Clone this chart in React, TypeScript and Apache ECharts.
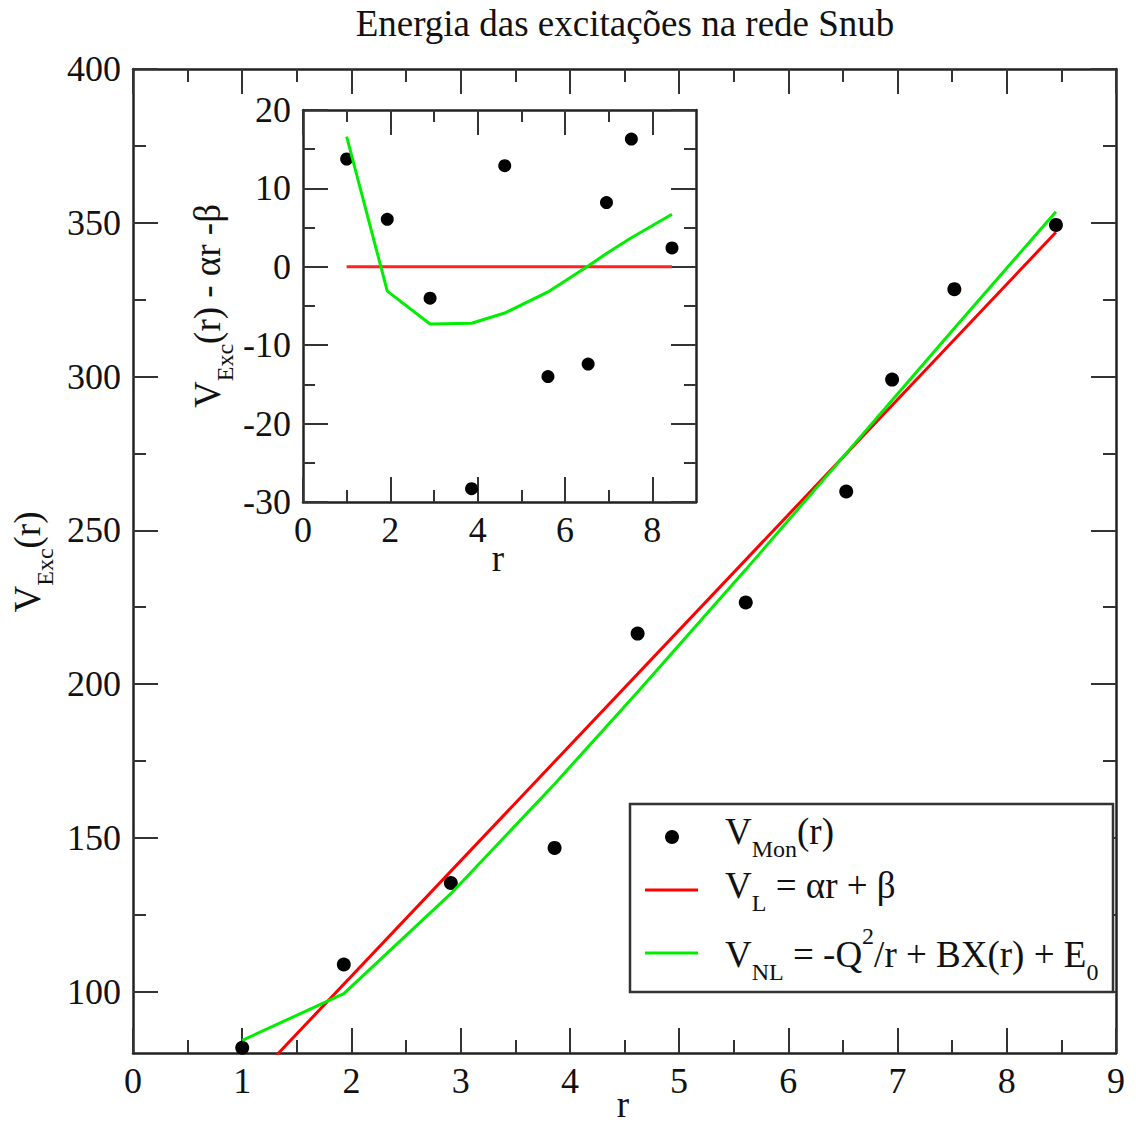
import React, { useEffect, useRef } from "react";
import * as echarts from "echarts";

// ---------- data ----------
const rValues = [1.0, 1.93, 2.91, 3.86, 4.62, 5.61, 6.53, 6.95, 7.52, 8.45];
const vMon = [81.7, 108.8, 135.3, 146.7, 216.4, 226.5, 262.6, 299.0, 328.4, 349.3];
const linearR = [1.0, 8.45];
const vLinear = [67.5, 346.9];
const vNonLinear = [84.1, 99.3, 131.8, 167.5, 197.4, 237.2, 275.0, 292.3, 315.7, 353.6];
const residMon = [13.75, 6.05, -4.0, -28.3, 12.9, -14.0, -12.4, 8.2, 16.3, 2.4];
const residLinear = [0, 0];
const residNonLinear = [16.6, -3.1, -7.3, -7.2, -5.9, -3.2, 0.1, 1.7, 3.7, 6.7];

const mainXTicks = [0, 1, 2, 3, 4, 5, 6, 7, 8, 9];
const mainXMinor = [0.5, 1.5, 2.5, 3.5, 4.5, 5.5, 6.5, 7.5, 8.5];
const mainYTicks = [100, 150, 200, 250, 300, 350, 400];
const mainYMinor = [125, 175, 225, 275, 325, 375];
const insetXTicks = [0, 2, 4, 6, 8];
const insetXMinor = [1, 3, 5, 7];
const insetYTicks = [-30, -20, -10, 0, 10, 20];
const insetYMinor = [-25, -15, -5, 5, 15];

const titleText = "Energia das excitações na rede Snub";

const SERIF = "'Liberation Serif', 'Times New Roman', serif";
const AX = "#222";
const TICK = "#333";
const LABEL_SIZE = 36;

function axis(
  gridIndex: number,
  position: string,
  min: number,
  max: number,
  values: number[],
  tickLen: number,
  labels: boolean,
  line: boolean
) {
  return {
    type: "value",
    gridIndex,
    position,
    min,
    max,
    axisLine: { show: line, onZero: false, lineStyle: { color: AX, width: 2.5 } },
    axisTick: {
      show: true,
      inside: true,
      length: tickLen,
      customValues: values,
      lineStyle: { color: TICK, width: 2 },
    },
    axisLabel: {
      show: labels,
      customValues: values,
      fontFamily: SERIF,
      fontSize: LABEL_SIZE,
      color: "#111",
      margin: position === "left" ? 12 : 10,
    },
    splitLine: { show: false },
    minorTick: { show: false },
    minorSplitLine: { show: false },
  };
}

const rich = {
  n: { fontFamily: SERIF, fontSize: 37, fill: "#111" },
  sub: { fontFamily: SERIF, fontSize: 24, fill: "#111", padding: [36, 0, 0, 0] },
  sup: { fontFamily: SERIF, fontSize: 24, fill: "#111", padding: [0, 0, 36, 0] },
};
const richAx = {
  n: { fontFamily: SERIF, fontSize: 37, fill: "#111" },
  sub: { fontFamily: SERIF, fontSize: 24, fill: "#111", padding: [36, 0, 0, 0] },
};

export default function App() {
  const ref = useRef<HTMLDivElement>(null);
  useEffect(() => {
    if (!ref.current) return;
    const chart = echarts.init(ref.current, undefined, { renderer: "svg" });
    const pair = (xs: number[], ys: number[]) => xs.map((x, i) => [x, ys[i]]);
    const option = {
      animation: false,
      backgroundColor: "#fff",
      grid: [
        { left: 133, top: 69, right: 20, bottom: 71, containLabel: false },
        {
          left: 303,
          top: 110,
          width: 393,
          height: 392,
          show: true,
          backgroundColor: "#fff",
          borderWidth: 0,
          containLabel: false,
        },
      ],
      xAxis: [
        axis(0, "bottom", 0, 9, mainXTicks, 25, true, true),
        axis(0, "bottom", 0, 9, mainXMinor, 13, false, false),
        axis(0, "top", 0, 9, mainXTicks, 25, false, true),
        axis(0, "top", 0, 9, mainXMinor, 13, false, false),
        axis(1, "bottom", 0, 9, insetXTicks, 25, true, true),
        axis(1, "bottom", 0, 9, insetXMinor, 12, false, false),
        axis(1, "top", 0, 9, insetXTicks, 25, false, true),
        axis(1, "top", 0, 9, insetXMinor, 12, false, false),
      ],
      yAxis: [
        axis(0, "left", 80, 400, mainYTicks, 25, true, true),
        axis(0, "left", 80, 400, mainYMinor, 13, false, false),
        axis(0, "right", 80, 400, mainYTicks, 25, false, true),
        axis(0, "right", 80, 400, mainYMinor, 13, false, false),
        axis(1, "left", -30, 20, insetYTicks, 25, true, true),
        axis(1, "left", -30, 20, insetYMinor, 12, false, false),
        axis(1, "right", -30, 20, insetYTicks, 25, false, true),
        axis(1, "right", -30, 20, insetYMinor, 12, false, false),
      ],
      series: [
        {
          type: "scatter",
          xAxisIndex: 0,
          yAxisIndex: 0,
          data: pair(rValues, vMon),
          symbol: "circle",
          symbolSize: 14,
          itemStyle: { color: "#000", opacity: 1 },
          z: 3,
        },
        {
          type: "line",
          xAxisIndex: 0,
          yAxisIndex: 0,
          data: pair(linearR, vLinear),
          showSymbol: false,
          symbol: "none",
          lineStyle: { color: "#ff0000", width: 3 },
          clip: true,
          z: 4,
        },
        {
          type: "line",
          xAxisIndex: 0,
          yAxisIndex: 0,
          data: pair(rValues, vNonLinear),
          showSymbol: false,
          symbol: "none",
          lineStyle: { color: "#00ee00", width: 3 },
          clip: true,
          z: 4,
        },
        {
          type: "scatter",
          xAxisIndex: 4,
          yAxisIndex: 4,
          data: pair(rValues, residMon),
          symbol: "circle",
          symbolSize: 13,
          itemStyle: { color: "#000", opacity: 1 },
          z: 3,
        },
        {
          type: "line",
          xAxisIndex: 4,
          yAxisIndex: 4,
          data: pair(linearR, residLinear),
          showSymbol: false,
          symbol: "none",
          lineStyle: { color: "#ff2222", width: 3 },
          z: 4,
        },
        {
          type: "line",
          xAxisIndex: 4,
          yAxisIndex: 4,
          data: pair(rValues, residNonLinear),
          showSymbol: false,
          symbol: "none",
          lineStyle: { color: "#00ee00", width: 3 },
          z: 4,
        },
      ],
      graphic: [
        {
          type: "text",
          x: 625,
          y: 23,
          style: {
            text: titleText,
            font: `37px ${SERIF}`,
            fill: "#111",
            textAlign: "center",
            textVerticalAlign: "middle",
          },
        },
        {
          type: "text",
          x: 623,
          y: 1123,
          style: {
            text: "r",
            font: `37px ${SERIF}`,
            fill: "#111",
            textAlign: "center",
            textVerticalAlign: "bottom",
          },
        },
        {
          type: "text",
          x: 498,
          y: 558,
          style: {
            text: "r",
            font: `37px ${SERIF}`,
            fill: "#111",
            textAlign: "center",
            textVerticalAlign: "middle",
          },
        },
        {
          type: "text",
          x: 27,
          y: 562,
          rotation: Math.PI / 2,
          style: {
            text: "{n|V}{sub|Exc}{n|(r)}",
            rich: richAx,
            textAlign: "center",
            textVerticalAlign: "middle",
          },
        },
        {
          type: "text",
          x: 207,
          y: 306,
          rotation: Math.PI / 2,
          style: {
            text: "{n|V}{sub|Exc}{n|(r) - αr -β}",
            rich: richAx,
            textAlign: "center",
            textVerticalAlign: "middle",
          },
        },
        // legend
        {
          type: "rect",
          shape: { x: 630, y: 804, width: 483, height: 188 },
          style: { fill: "#fff", stroke: "#333", lineWidth: 2.5 },
          z: 10,
        },
        {
          type: "circle",
          shape: { cx: 672, cy: 837, r: 7 },
          style: { fill: "#000" },
          z: 11,
        },
        {
          type: "line",
          shape: { x1: 645, y1: 890, x2: 698, y2: 890 },
          style: { stroke: "#ff0000", lineWidth: 3 },
          z: 11,
        },
        {
          type: "line",
          shape: { x1: 645, y1: 953, x2: 698, y2: 953 },
          style: { stroke: "#00ee00", lineWidth: 3 },
          z: 11,
        },
        {
          type: "text",
          x: 725,
          y: 831,
          z: 11,
          style: {
            text: "{n|V}{sub|Mon}{n|(r)}",
            rich,
            textAlign: "left",
            textVerticalAlign: "middle",
          },
        },
        {
          type: "text",
          x: 725,
          y: 885,
          z: 11,
          style: {
            text: "{n|V}{sub|L}{n| = αr + β}",
            rich,
            textAlign: "left",
            textVerticalAlign: "middle",
          },
        },
        {
          type: "text",
          x: 725,
          y: 954,
          z: 11,
          style: {
            text: "{n|V}{sub|NL}{n| = -Q}{sup|2}{n|/r + BX(r) + E}{sub|0}",
            rich,
            textAlign: "left",
            textVerticalAlign: "middle",
          },
        },
      ],
    };
    chart.setOption(option as any);
    return () => chart.dispose();
  }, []);
  return (
    <div
      ref={ref}
      style={{ position: "absolute", left: 0, top: 0, width: 1136, height: 1124 }}
    />
  );
}
